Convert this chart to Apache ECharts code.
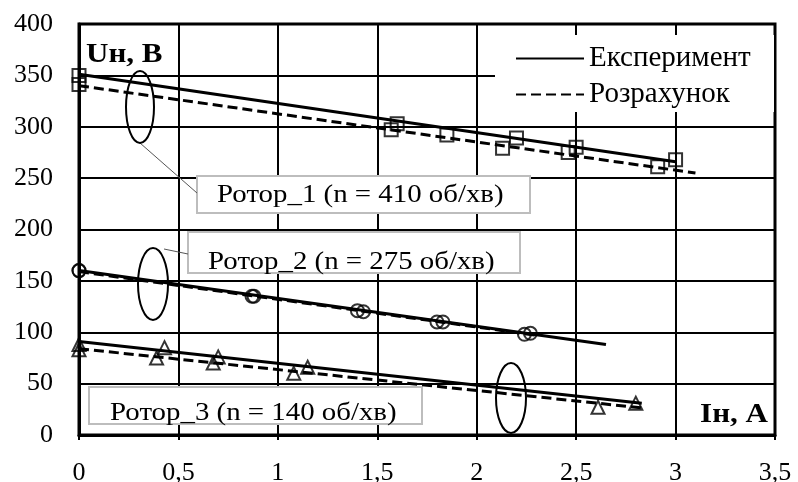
<!DOCTYPE html>
<html>
<head>
<meta charset="utf-8">
<script src="https://cdn.jsdelivr.net/npm/echarts@6/dist/echarts.min.js"></script>
<style>
html,body{margin:0;padding:0;background:#fff;}
#chart{width:798px;height:482px;}
</style>
</head>
<body>
<div id="chart"></div>
<script>
const xTickLabels = ['0', '0,5', '1', '1,5', '2', '2,5', '3', '3,5'];
const yTickValues = [0, 50, 100, 150, 200, 250, 300, 350, 400];

const rotor1Exp = [[0, 350], [1.6, 303], [2.2, 289], [2.5, 280], [3.0, 268]];
const rotor1Calc = [[0, 341], [1.57, 297], [1.85, 292], [2.13, 279], [2.46, 275], [2.91, 261]];
const rotor1ExpTrend = [[0, 351], [3.0, 266]];
const rotor1CalcTrend = [[0, 340], [3.1, 255]];

const rotor2Exp = [[0, 160], [0.88, 135], [1.43, 120], [1.8, 110], [2.27, 99]];
const rotor2Calc = [[0, 160], [0.87, 135], [1.40, 121], [1.83, 110], [2.24, 98]];
const rotor2ExpTrend = [[0, 160], [2.65, 88]];
const rotor2CalcTrend = [[0, 159], [2.3, 97]];

const rotor3Exp = [[0, 88], [0.43, 85], [0.70, 76], [1.15, 66], [2.8, 31]];
const rotor3Calc = [[0, 83], [0.39, 75], [0.675, 70], [1.08, 60], [2.61, 27]];
const rotor3ExpTrend = [[0, 91], [2.83, 31]];
const rotor3CalcTrend = [[0, 84], [2.85, 26]];

const legendNames = ['Експеримент', 'Розрахунок'];
const rotorLabels = ['Ротор_1 (n = 410 об/хв)', 'Ротор_2 (n = 275 об/хв)', 'Ротор_3 (n = 140 об/хв)'];
const yTitle = 'Uн, В';
const xTitle = 'Iн, А';

const FONT = '"Liberation Serif", "Times New Roman", serif';

function trend(name, data, dashed) {
  return {
    type: 'line', name: name, data: data, symbol: 'none', showSymbol: false,
    lineStyle: { color: '#000', width: 3, type: dashed ? [10, 5] : 'solid' },
    itemStyle: { color: '#000' },
    z: 3, silent: true, animation: false
  };
}
function pts(data, symbol) {
  return {
    type: 'scatter', data: data, symbol: symbol, symbolSize: 13,
    itemStyle: { color: 'rgba(0,0,0,0)', borderColor: '#000', borderWidth: 2 },
    z: 4, silent: true, animation: false
  };
}

const chart = echarts.init(document.getElementById('chart'), null, { renderer: 'canvas' });
const option = {
  animation: false,
  backgroundColor: '#fff',
  grid: { left: 79, right: 23, top: 24, bottom: 47, show: true, borderColor: '#000', borderWidth: 3, containLabel: false, outerBoundsMode: 'none' },
  xAxis: {
    type: 'value', min: 0, max: 3.5, interval: 0.5,
    axisLine: { show: true, lineStyle: { color: '#000', width: 3 } },
    axisTick: { show: true, length: 5, lineStyle: { color: '#000', width: 2 } },
    splitLine: { show: true, lineStyle: { color: '#000', width: 2 } },
    axisLabel: {
      color: '#000', fontSize: 26, fontFamily: FONT, margin: 25,
      formatter: function (v) { return xTickLabels[Math.round(v / 0.5)]; }
    }
  },
  yAxis: {
    type: 'value', min: yTickValues[0], max: yTickValues[yTickValues.length - 1], interval: 50,
    axisLine: { show: true, lineStyle: { color: '#000', width: 3 } },
    axisTick: { show: false },
    splitLine: { show: true, lineStyle: { color: '#000', width: 2 } },
    axisLabel: { color: '#000', fontSize: 26, fontFamily: FONT, margin: 26 }
  },
  legend: {
    data: legendNames, orient: 'vertical', left: 510, top: 39,
    itemWidth: 68, itemHeight: 14, itemGap: 7,
    itemStyle: { opacity: 0 },
    textStyle: { color: '#000', fontSize: 29, fontFamily: FONT },
    selectedMode: false, z: 10
  },
  graphic: [
    { type: 'rect', z: 1, shape: { x: 495, y: 35, width: 279, height: 77 }, style: { fill: '#fff' } },
    { type: 'rect', z: 1, shape: { x: 197, y: 176, width: 333, height: 37 }, style: { fill: '#fff', stroke: '#bdbdbd', lineWidth: 2 } },
    { type: 'rect', z: 1, shape: { x: 188, y: 232, width: 332, height: 41 }, style: { fill: '#fff', stroke: '#bdbdbd', lineWidth: 2 } },
    { type: 'rect', z: 1, shape: { x: 89, y: 387, width: 333, height: 37 }, style: { fill: '#fff', stroke: '#bdbdbd', lineWidth: 2 } },
    { type: 'text', z: 6, x: 217, y: 195, scaleX: 1.11, style: { text: rotorLabels[0], fill: '#000', font: '26px ' + FONT, textVerticalAlign: 'middle' } },
    { type: 'text', z: 6, x: 208, y: 262, scaleX: 1.11, style: { text: rotorLabels[1], fill: '#000', font: '26px ' + FONT, textVerticalAlign: 'middle' } },
    { type: 'text', z: 6, x: 110, y: 413, scaleX: 1.11, style: { text: rotorLabels[2], fill: '#000', font: '26px ' + FONT, textVerticalAlign: 'middle' } },
    { type: 'line', z: 6, shape: { x1: 140, y1: 143, x2: 197, y2: 193 }, style: { stroke: '#555', lineWidth: 1 } },
    { type: 'line', z: 6, shape: { x1: 164, y1: 249, x2: 188, y2: 254 }, style: { stroke: '#555', lineWidth: 1 } },
    { type: 'ellipse', z: 6, shape: { cx: 140, cy: 107, rx: 14, ry: 36 }, style: { fill: 'none', stroke: '#000', lineWidth: 2 } },
    { type: 'ellipse', z: 6, shape: { cx: 153, cy: 284, rx: 15, ry: 36 }, style: { fill: 'none', stroke: '#000', lineWidth: 2 } },
    { type: 'ellipse', z: 6, shape: { cx: 511, cy: 398, rx: 15, ry: 35 }, style: { fill: 'none', stroke: '#000', lineWidth: 2 } },
    { type: 'text', z: 6, x: 86, y: 55, scaleX: 1.15, style: { text: yTitle, fill: '#000', font: 'bold 27px ' + FONT, textVerticalAlign: 'middle' } },
    { type: 'text', z: 6, x: 768, y: 415, scaleX: 1.15, style: { text: xTitle, fill: '#000', font: 'bold 27px ' + FONT, textVerticalAlign: 'middle', textAlign: 'right' } }
  ],
  series: [
    trend(legendNames[0], rotor1ExpTrend, false),
    trend(legendNames[1], rotor1CalcTrend, true),
    trend(legendNames[0], rotor2ExpTrend, false),
    trend(legendNames[1], rotor2CalcTrend, true),
    trend(legendNames[0], rotor3ExpTrend, false),
    trend(legendNames[1], rotor3CalcTrend, true),
    pts(rotor1Exp, 'rect'),
    pts(rotor1Calc, 'rect'),
    pts(rotor2Exp, 'circle'),
    pts(rotor2Calc, 'circle'),
    pts(rotor3Exp, 'triangle'),
    pts(rotor3Calc, 'triangle')
  ]
};
chart.setOption(option);
</script>
</body>
</html>
